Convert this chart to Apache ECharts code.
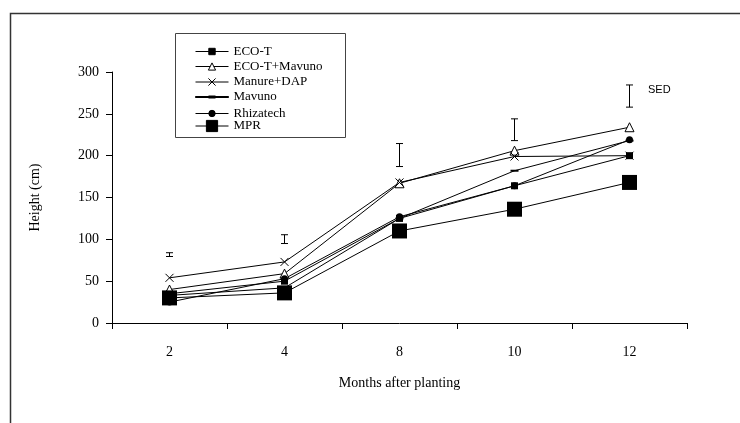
<!DOCTYPE html>
<html>
<head>
<meta charset="utf-8">
<script src="https://cdn.jsdelivr.net/npm/echarts@6/dist/echarts.min.js"></script>
<style>
  html, body { margin: 0; padding: 0; background: #fff; }
  #chart { width: 740px; height: 423px; }
</style>
</head>
<body>
<div id="chart"></div>
<script>
// months after planting
const months = ['2', '4', '8', '10', '12']

// plant height (cm) per treatment
const ecoT = [35, 50, 125, 164, 200]
const ecoTMavuno = [40, 59, 167, 206, 234]
const manureDap = [54, 73, 168, 199, 200]
const mavuno = [33, 42, 125, 182, 218]
const rhizatech = [25, 53, 127, 164, 219]
const mpr = [30, 36, 110, 136, 168]

// SED bars (low / high end)
const sedLow = [79.5, 95, 187, 218, 258]
const sedHigh = [84, 105.5, 214.5, 244, 284.5]

const serif = 'Liberation Serif'
const black = '#000'

const myChart = echarts.init(document.getElementById('chart'))

const crossPath = 'path://M0,0L10,10M10,0L0,10'
// legend icon for Mavuno: thin line with a short thick dash in the middle
const dashIcon = 'path://M0,4.5L33,4.5L33,5.5L0,5.5Z M13,4L20,4L20,6L13,6Z'

function lineSeries(name, data, symbol, size, extra) {
  return Object.assign({
    name: name,
    type: 'line',
    data: data,
    symbol: symbol,
    symbolSize: size,
    showAllSymbol: true,
    animation: false,
    lineStyle: { color: black, width: 1 },
    itemStyle: { color: black, borderColor: black, borderWidth: 0 }
  }, extra || {})
}

// one legend per entry so every marker keeps its own size
const legendRows = [
  { name: 'ECO-T', y: 49, h: 8 },
  { name: 'ECO-T+Mavuno', y: 64.5, h: 9 },
  { name: 'Manure+DAP', y: 80, h: 9 },
  { name: 'Mavuno', y: 95.5, h: 10, icon: dashIcon },
  { name: 'Rhizatech', y: 111, h: 8 },
  { name: 'MPR', y: 126.5, h: 14 }
]

const legends = legendRows.map(function (r) {
  const item = { name: r.name }
  if (r.icon) item.icon = r.icon
  return {
    orient: 'vertical',
    left: 195,
    top: r.y - r.h / 2,
    padding: 0,
    itemWidth: 33,
    itemHeight: r.h,
    selectedMode: false,
    lineStyle: { width: 1, color: black },
    itemStyle: { borderWidth: 1 },
    textStyle: { fontFamily: serif, fontSize: 13, color: black },
    data: [item]
  }
})

myChart.setOption({
  animation: false,
  grid: { left: 112, right: 53, top: 72, bottom: 100 },
  legend: legends,
  xAxis: {
    type: 'category',
    data: months,
    boundaryGap: true,
    name: 'Months after planting',
    nameLocation: 'middle',
    nameGap: 53,
    nameTextStyle: { fontFamily: serif, fontSize: 14, color: black },
    axisLine: { lineStyle: { color: black, width: 1 } },
    axisTick: { show: true, length: 6, lineStyle: { color: black } },
    axisLabel: { fontFamily: serif, fontSize: 14, color: black, margin: 22 },
    splitLine: { show: false }
  },
  yAxis: {
    type: 'value',
    min: 0,
    max: 300,
    interval: 50,
    name: 'Height (cm)',
    nameLocation: 'middle',
    nameGap: 70,
    nameTextStyle: { fontFamily: serif, fontSize: 14, color: black },
    axisLine: { show: true, lineStyle: { color: black, width: 1 } },
    axisTick: { show: true, length: 6, lineStyle: { color: black } },
    axisLabel: { fontFamily: serif, fontSize: 14, color: black, margin: 13 },
    splitLine: { show: false }
  },
  graphic: [
    {
      type: 'rect',
      shape: { x: 10.5, y: 13.5, width: 800, height: 500 },
      style: { fill: 'none', stroke: '#333', lineWidth: 1.5 },
      silent: true
    },
    {
      type: 'rect',
      shape: { x: 175.5, y: 33.5, width: 170, height: 104 },
      style: { fill: '#fff', stroke: '#444', lineWidth: 1 },
      z: -1,
      silent: true
    },
    {
      type: 'text',
      left: 648,
      top: 84,
      style: { text: 'SED', fontFamily: 'Liberation Sans', fontSize: 11, fill: black }
    }
  ],
  series: [
    lineSeries('ECO-T', ecoT, 'rect', 7),
    lineSeries('ECO-T+Mavuno', ecoTMavuno, 'triangle', 9,
      { itemStyle: { color: '#fff', borderColor: black, borderWidth: 1 } }),
    lineSeries('Manure+DAP', manureDap, crossPath, 8,
      { itemStyle: { color: 'none', borderColor: black, borderWidth: 1 } }),
    lineSeries('Mavuno', mavuno, 'rect', [8, 2]),
    lineSeries('Rhizatech', rhizatech, 'circle', 7),
    lineSeries('MPR', mpr, 'rect', 15),
    {
      name: 'SED',
      type: 'custom',
      animation: false,
      data: sedLow.map(function (lo, i) { return [i, lo, sedHigh[i]] }),
      encode: { x: 0, y: [1, 2] },
      renderItem: function (params, api) {
        const lo = api.coord([api.value(0), api.value(1)])
        const hi = api.coord([api.value(0), api.value(2)])
        const w = 3.5
        const st = { stroke: black, lineWidth: 1 }
        return {
          type: 'group',
          children: [
            { type: 'line', shape: { x1: lo[0], y1: lo[1], x2: hi[0], y2: hi[1] }, style: st },
            { type: 'line', shape: { x1: lo[0] - w, y1: lo[1], x2: lo[0] + w, y2: lo[1] }, style: st },
            { type: 'line', shape: { x1: hi[0] - w, y1: hi[1], x2: hi[0] + w, y2: hi[1] }, style: st }
          ]
        }
      }
    }
  ]
})
</script>
</body>
</html>
